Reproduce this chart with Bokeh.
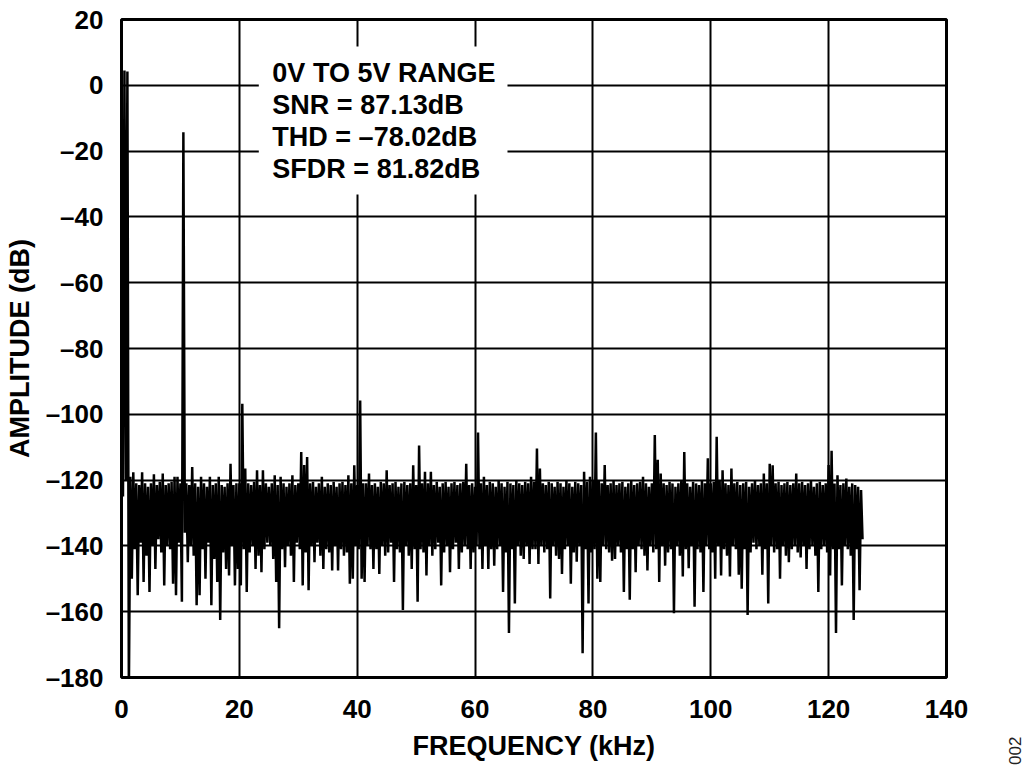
import numpy as np
from bokeh.plotting import figure
from bokeh.models import Range1d, FixedTicker, Label, BoxAnnotation, Div
from bokeh.layouts import row
from bokeh.embed import file_html
from bokeh.resources import INLINE

# ---------------- data ----------------
bin_width_khz = 0.5

# per 0.5 kHz bin: highest value (at bin start) ...
bin_peak_db = [
    3.5, 4.5, 4.2, -119, -117.6, -121, -121.5, -117.6, -121, -122, -121, -118.2, -121.5, -120.5, -118, -121.5, -121, -120.5, -119, -119,
    -121, -14.3, -121, -121.5, -116, -121, -122, -119, -121, -122, -119, -121.5, -121, -119, -121.5, -122, -121, -115, -121.5, -121,
    -121, -96.8, -116.5, -121, -121.5, -120.5, -117, -121.5, -117, -121, -122, -121, -118.5, -121.5, -119, -121, -122, -121, -118.5, -121.5,
    -121, -111.5, -115.4, -113, -121, -120.5, -122, -121, -119, -122, -121, -121.5, -120.5, -122, -121, -120.5, -121.5, -118.5, -121, -115.5,
    -121.5, -95.8, -121, -121, -118, -121.5, -121, -122, -120.5, -121, -117, -121.5, -121, -120.5, -122, -121, -120.5, -121.5, -121, -115.5,
    -121.5, -109.5, -121, -117.5, -121, -117.5, -121.5, -120.5, -122, -121, -120.5, -122, -121, -120.5, -121.5, -121, -120.5, -115, -121.5, -121,
    -122, -105.5, -121, -119, -121.5, -120.5, -121, -122, -120, -121, -122, -120.5, -121, -121.5, -120, -121, -121.5, -120.5, -121, -119,
    -120.5, -110.4, -116.5, -121, -121.5, -120.5, -121, -122, -120.5, -121, -122, -120, -121, -122, -120.5, -121, -121.5, -117.5, -120.5, -119,
    -120, -105.5, -120, -121, -115.4, -121.5, -121, -120, -121.5, -121, -120.5, -122, -121, -120, -121.5, -121, -120.5, -119, -121, -122,
    -121, -106.3, -113.8, -118, -121, -121.5, -120.5, -121, -122, -121, -120, -111.5, -121, -122, -120.5, -121, -121.5, -120, -121, -113.4,
    -121, -120.5, -106.8, -120, -117, -121, -121.5, -116.5, -121, -120.5, -121.5, -121, -120.5, -122, -121, -120, -121.5, -121, -118, -121,
    -115, -115.5, -121, -120.5, -121.5, -121, -120.5, -121.5, -121, -118, -121, -120.5, -121.5, -121, -120, -122, -121, -120.5, -121.5, -121,
    -115.4, -111.1, -121, -118.5, -121.5, -121, -119.5, -122, -121, -121.5, -122, -123,
]

# ... and lowest value (at bin middle)
bin_trough_db = [
    -125, -120, -185, -150, -141, -155, -139, -151, -143, -154, -140, -147, -138, -142, -152, -140, -141, -151.5, -155, -139,
    -157, -136, -145, -140, -143, -158, -155, -141, -150, -139, -158, -144, -151, -162.5, -142, -147, -149, -140, -152, -147,
    -152, -141, -154, -142, -140, -147, -143, -148, -141, -139, -140, -144, -151, -165, -141, -146.5, -140, -143, -151, -139,
    -141, -152, -142, -153.5, -140, -145, -139, -143, -147, -141, -142, -147.5, -140, -147.5, -141, -143, -142, -151.5, -150, -140,
    -141, -150, -151, -140, -141, -147, -141, -148.5, -140, -143, -142, -139, -151, -141, -142, -159.5, -140, -143, -147, -141,
    -157, -141, -142, -149, -140, -143, -141, -139, -152, -142, -140, -148, -141, -139, -147, -142, -140, -141, -147, -142,
    -140, -141, -147, -140, -147, -141, -146, -141, -140, -154, -142, -166.5, -141, -157.5, -140, -143, -144, -140, -145.5, -141,
    -141, -145.5, -140, -142, -141, -156, -140, -143, -144, -148.5, -141, -140, -151.5, -142, -144.8, -140, -172.6, -141, -157.5, -142,
    -141, -150, -151, -140, -141, -142, -144.5, -144, -140, -142, -154, -141, -156.4, -141, -148, -140, -141, -143, -147.5, -140,
    -142, -141, -151, -140, -146, -142, -141, -160.5, -140, -143, -149.3, -141, -146.8, -140, -158.5, -141, -142, -154, -140, -141,
    -142, -150, -140, -149, -141, -143, -149.3, -140, -141, -148.8, -153, -141, -161, -142, -139, -141, -140, -148.8, -141, -157.5,
    -140, -142, -141, -150, -140, -143, -145, -141, -140, -142, -143.5, -140, -147, -141, -140, -143, -154, -141, -140, -142,
    -149, -141, -166.5, -141, -152, -140, -141, -143, -162.5, -141, -153.5, -138,
]

x_ticks = [0, 20, 40, 60, 80, 100, 120, 140]
x_tick_labels = ["0", "20", "40", "60", "80", "100", "120", "140"]
y_ticks = [20, 0, -20, -40, -60, -80, -100, -120, -140, -160, -180]
y_tick_labels = ["20", "0", "\u201320", "\u201340", "\u201360", "\u201380", "\u2013100",
                 "\u2013120", "\u2013140", "\u2013160", "\u2013180"]

box_lines = ["0V TO 5V RANGE", "SNR = 87.13dB", "THD = \u201378.02dB", "SFDR = 81.82dB"]
figure_code = "002"

# ---------------- build series ----------------
bin_freq = np.arange(len(bin_peak_db)) * bin_width_khz
freq = np.column_stack([bin_freq, bin_freq + bin_width_khz / 2]).ravel()
amp = np.column_stack([bin_peak_db, bin_trough_db]).ravel()

FONT = "Liberation Sans"

p = figure(width=998, height=767,
           frame_width=825, frame_height=658,
           x_range=Range1d(0, 140), y_range=Range1d(-180, 20),
           output_backend="svg", toolbar_location=None,
           min_border_left=121, min_border_right=52,
           min_border_top=19, min_border_bottom=90,
           x_axis_label="FREQUENCY (kHz)", y_axis_label="AMPLITUDE (dB)")

p.background_fill_color = "white"
p.border_fill_color = "white"
p.outline_line_color = "black"
p.outline_line_width = 3

p.xaxis.ticker = FixedTicker(ticks=x_ticks)
p.yaxis.ticker = FixedTicker(ticks=y_ticks)
p.xaxis.major_label_overrides = dict(zip(x_ticks, x_tick_labels))
p.yaxis.major_label_overrides = dict(zip(y_ticks, y_tick_labels))

for ax in (p.xaxis, p.yaxis):
    ax.axis_line_color = None
    ax.major_tick_line_color = None
    ax.minor_tick_line_color = None
    ax.major_tick_out = 0
    ax.major_tick_in = 0
    ax.major_label_text_font = FONT
    ax.major_label_text_font_style = "bold"
    ax.major_label_text_font_size = "26px"
    ax.major_label_text_color = "black"
    ax.axis_label_text_font = FONT
    ax.axis_label_text_font_style = "bold"
    ax.axis_label_text_font_size = "27px"
    ax.axis_label_text_color = "black"

p.xaxis.major_label_standoff = 22
p.xaxis.axis_label_standoff = 10
p.yaxis.major_label_standoff = 18
p.yaxis.axis_label_standoff = 8

for g in (p.xgrid, p.ygrid):
    g.grid_line_color = "black"
    g.grid_line_width = 2
    g.grid_line_alpha = 1

p.line(freq, amp, line_color="black", line_width=2.5)

# white background behind the annotation block
p.add_layout(BoxAnnotation(left=23.3, right=65.5, top=11.8, bottom=-33.2,
                           fill_color="white", fill_alpha=1, line_color=None))

for i, txt in enumerate(box_lines):
    p.add_layout(Label(x=25.6, y=3.7 - 9.75 * i, text=txt,
                       text_font=FONT, text_font_style="bold",
                       text_font_size="27px", text_color="black",
                       text_baseline="alphabetic", text_align="left"))

# figure code, rotated, outside the plot frame at the bottom right
code_div = Div(
    text=('<span style="display:block;width:26px;margin-top:738px;margin-left:0px;'
          'text-align:center;transform:rotate(-90deg);'
          'font-family:\'Liberation Sans\',sans-serif;font-size:17px;'
          'line-height:18px;color:#222222;white-space:nowrap;">' + figure_code + '</span>'),
    styles={"font-size": "17px"},
    width=26, height=767)

layout = row(p, code_div)

open("out.html", "w").write(file_html(layout, INLINE))
